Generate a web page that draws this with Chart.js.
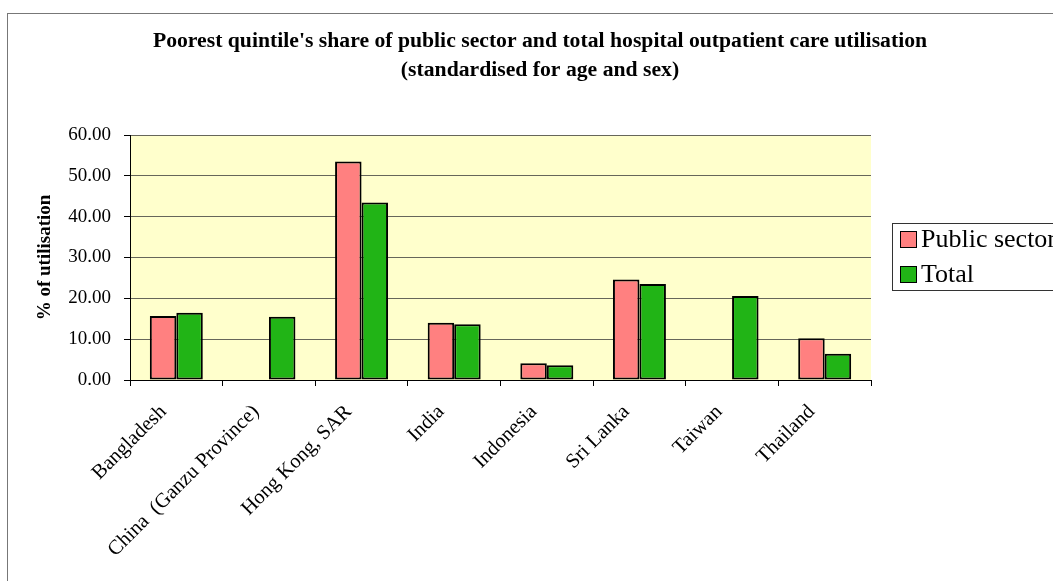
<!DOCTYPE html>
<html>
<head>
<meta charset="utf-8">
<style>
  html, body { margin: 0; padding: 0; background: #ffffff; }
  canvas { display: block; }
</style>
<script src="https://cdn.jsdelivr.net/npm/chart.js@4.4.1/dist/chart.umd.min.js"></script>
</head>
<body>
<canvas id="chart" width="1053" height="581"></canvas>
<script>
// Poorest quintile's share of outpatient utilisation, by economy
const categories = [
  'Bangladesh',
  'China  (Ganzu Province)',
  'Hong Kong, SAR',
  'India',
  'Indonesia',
  'Sri Lanka',
  'Taiwan',
  'Thailand'
];
const publicSector = [15.7, null, 53.5, 14.0, 4.1, 24.6, null, 10.2];
const totalCare    = [16.5, 15.5, 43.5, 13.65, 3.6, 23.5, 20.6, 6.45];
const seriesNames  = ['Public sector', 'Total'];
const titleLines   = [
  "Poorest quintile's share of public sector and total hospital outpatient care utilisation",
  '(standardised for age and sex)'
];
const yAxisTitle = '% of utilisation';
const yMin = 0, yMax = 60, yStep = 10;

const PINK = '#FF8080';
const GREEN = '#21B416';
const SERIF = '"Liberation Serif", "Times New Roman", serif';

// Outer frame, plot-area fill, title and legend box
const decorations = {
  id: 'decorations',
  beforeDraw(chart) {
    const { ctx, chartArea } = chart;
    ctx.save();
    ctx.fillStyle = '#FFFFCC';
    ctx.fillRect(chartArea.left, chartArea.top,
      chartArea.right - chartArea.left, chartArea.bottom - chartArea.top);
    ctx.strokeStyle = '#777777';
    ctx.lineWidth = 1;
    ctx.strokeRect(7.5, 13.5, 1200, 800);
    ctx.restore();
  },
  afterDraw(chart) {
    const { ctx } = chart;
    ctx.save();
    // title
    ctx.fillStyle = '#000';
    ctx.textAlign = 'center';
    ctx.textBaseline = 'middle';
    ctx.font = 'bold 21.7px ' + SERIF;
    ctx.fillText(titleLines[0], 540, 41);
    ctx.fillText(titleLines[1], 540, 70);
    // legend
    ctx.strokeStyle = '#333';
    ctx.lineWidth = 1;
    ctx.strokeRect(892.5, 223.5, 300, 67);
    const colors = chart.data.datasets.map(d => d.backgroundColor);
    chart.data.datasets.forEach((ds, i) => {
      const cy = 239.5 + i * 35;
      ctx.fillStyle = colors[i];
      ctx.fillRect(900.5, cy - 8, 16, 16);
      ctx.strokeStyle = '#000';
      ctx.strokeRect(900.5, cy - 8, 16, 16);
      ctx.fillStyle = '#000';
      ctx.textAlign = 'left';
      ctx.textBaseline = 'middle';
      ctx.font = '26px ' + SERIF;
      ctx.fillText(ds.label, 921, cy + 1);
    });
    ctx.restore();
  }
};

new Chart(document.getElementById('chart'), {
  type: 'bar',
  data: {
    labels: categories,
    datasets: [
      { label: seriesNames[0], data: publicSector, backgroundColor: PINK,
        borderColor: '#000', borderWidth: 2, borderSkipped: false },
      { label: seriesNames[1], data: totalCare, backgroundColor: GREEN,
        borderColor: '#000', borderWidth: 2, borderSkipped: false }
    ]
  },
  options: {
    responsive: false,
    animation: false,
    devicePixelRatio: 1,
    layout: { padding: { top: 135, right: 182, bottom: 0, left: 0 } },
    datasets: { bar: { categoryPercentage: 0.572, barPercentage: 1.0 } },
    plugins: {
      legend: { display: false },
      title: { display: false },
      tooltip: { enabled: false }
    },
    scales: {
      x: {
        afterFit(scale) { scale.height = 201; },
        grid: {
          display: true, drawOnChartArea: false, offset: true,
          tickLength: 6, tickColor: '#000', color: '#000'
        },
        border: { display: true, color: '#000', width: 1 },
        ticks: {
          minRotation: 45, maxRotation: 45, autoSkip: false,
          padding: 14, labelOffset: -13,
          color: '#000', font: { family: SERIF, size: 20.5 }
        }
      },
      y: {
        min: yMin, max: yMax,
        afterFit(scale) { scale.width = 130; },
        grid: { color: '#66665a', lineWidth: 1, tickLength: 6, tickColor: '#000' },
        border: { display: true, color: '#000', width: 1 },
        ticks: {
          stepSize: yStep, padding: 13, color: '#000',
          font: { family: SERIF, size: 19 },
          callback: v => Number(v).toFixed(2)
        },
        title: {
          display: true, text: yAxisTitle, color: '#000',
          font: { family: SERIF, size: 19, weight: 'bold', lineHeight: 1.2 },
          padding: { top: 34, bottom: 0 }
        }
      }
    }
  },
  plugins: [decorations]
});
</script>
</body>
</html>
